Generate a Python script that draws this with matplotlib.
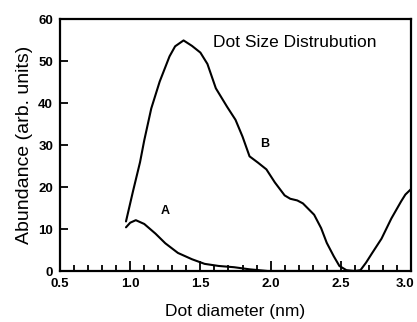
import matplotlib
matplotlib.use("Agg")
import matplotlib.pyplot as plt
from matplotlib.ticker import MultipleLocator
from matplotlib.transforms import ScaledTranslation

# Data
b_x = [0.97, 1.02, 1.07, 1.10, 1.15, 1.21, 1.28, 1.32, 1.38, 1.44, 1.50, 1.55,
       1.61, 1.69, 1.75, 1.80, 1.85, 1.91, 1.97, 2.03, 2.10, 2.14, 2.19, 2.23,
       2.31, 2.36, 2.40, 2.45, 2.49, 2.54, 2.60, 2.64, 2.68, 2.72, 2.79, 2.86,
       2.93, 2.96, 3.00]
b_y = [11.8, 19.0, 25.9, 31.1, 38.7, 45.1, 51.1, 53.5, 54.9, 53.6, 52.0, 49.3,
       43.5, 39.1, 36.0, 32.0, 27.3, 25.8, 24.2, 21.1, 18.0, 17.2, 16.8, 16.1,
       13.4, 10.2, 6.7, 3.5, 1.2, 0.2, 0.0, 0.2, 2.0, 4.1, 7.7, 12.5,
       16.6, 18.2, 19.5]

a_x = [0.97, 1.00, 1.04, 1.10, 1.18, 1.25, 1.34, 1.44, 1.53, 1.63, 1.74, 1.85,
       1.98, 2.20, 2.50]
a_y = [10.4, 11.5, 12.1, 11.2, 8.9, 6.6, 4.3, 2.8, 1.7, 1.2, 0.9, 0.4,
       0.0, 0.0, 0.0]

x_ticks = [0.5, 1.0, 1.5, 2.0, 2.5, 3.0]
x_ticklabels = ["0.5", "1.0", "1.5", "2.0", "2.5", "3.0"]
y_ticks = [0, 10, 20, 30, 40, 50, 60]
y_ticklabels = ["0", "10", "20", "30", "40", "50", "60"]

title_text = "Dot Size Distrubution"
x_label = "Dot diameter (nm)"
y_label = "Abundance (arb. units)"

plt.rcParams['font.family'] = ['Liberation Sans', 'DejaVu Sans']

fig = plt.figure(figsize=(4.17, 3.22), dpi=100)
ax = fig.add_axes([60/417, 1-271/322, (411-60)/417, (271-19)/322])

ax.plot(b_x, b_y, color='black', lw=1.5, solid_capstyle='round')
ax.plot(a_x, a_y, color='black', lw=1.5, solid_capstyle='round')

ax.set_xlim(0.5, 3.0)
ax.set_ylim(0, 60)

ax.set_xticks(x_ticks)
ax.set_xticklabels(x_ticklabels, fontweight='bold', fontsize=9.5)
ax.set_yticks(y_ticks)
ax.set_yticklabels(y_ticklabels, fontweight='bold', fontsize=9.5)
ax.xaxis.set_minor_locator(MultipleLocator(0.1))

ax.tick_params(axis='x', which='major', direction='in', length=7, width=1.3, pad=5)
ax.tick_params(axis='x', which='minor', direction='in', length=4.5, width=1.3)
ax.tick_params(axis='y', which='major', direction='in', length=6, width=1.3, pad=5)
ax.tick_params(top=False, right=False)

# keep the last x tick label inside the figure
last = ax.get_xticklabels()[-1]
last.set_transform(last.get_transform() + ScaledTranslation(-6/100, 0, fig.dpi_scale_trans))

for s in ax.spines.values():
    s.set_linewidth(1.6)

ax.set_xlabel(x_label, fontsize=12.5, labelpad=10)
ax.set_ylabel(y_label, fontsize=14, labelpad=4)

ax.text(1.59, 54.4, title_text, fontsize=12.5, ha='left', va='center')
ax.text(1.25, 14.4, "A", fontsize=9, fontweight='bold', ha='center', va='center')
ax.text(1.96, 30.2, "B", fontsize=9, fontweight='bold', ha='center', va='center')

fig.savefig("out.png", dpi=100)
